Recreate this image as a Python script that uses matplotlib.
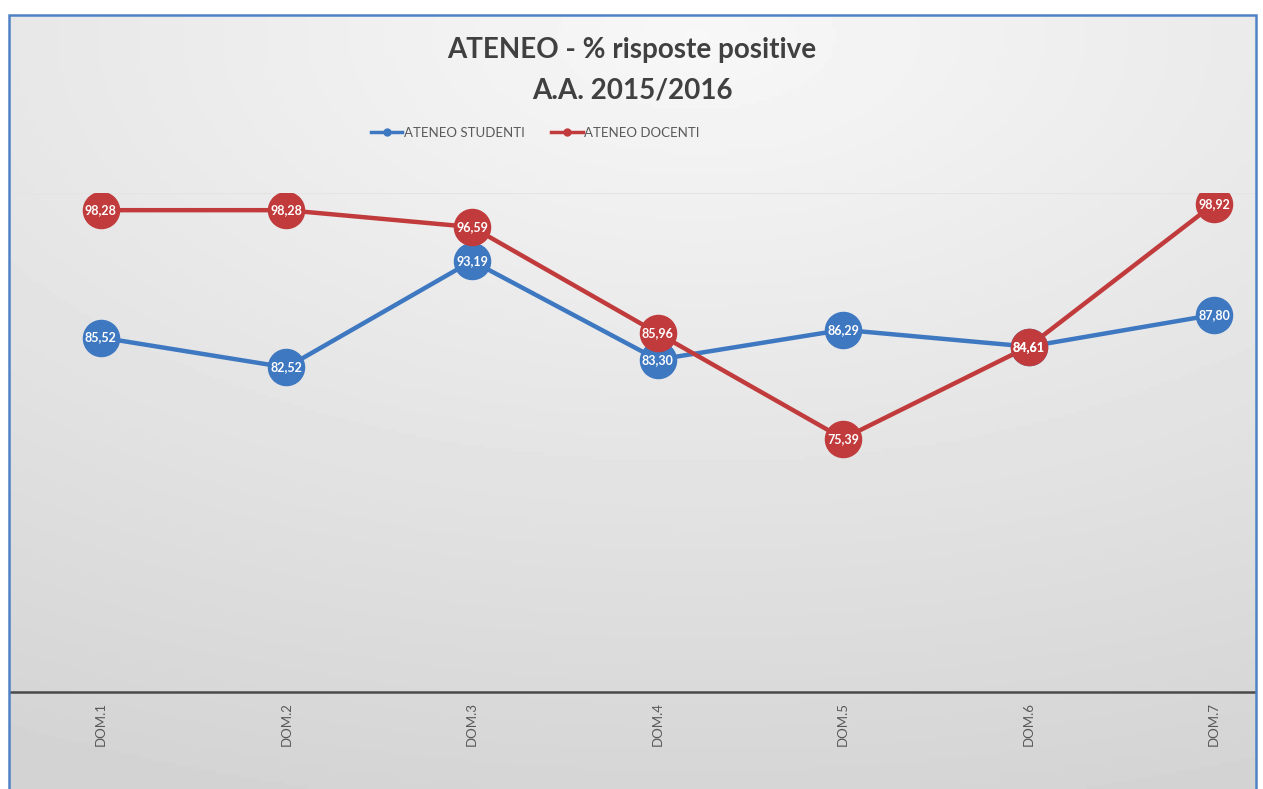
import numpy as np
import matplotlib.pyplot as plt
from matplotlib.patches import Rectangle

categories = ['DOM.1', 'DOM.2', 'DOM.3', 'DOM.4', 'DOM.5', 'DOM.6', 'DOM.7']
studenti = [85.52, 82.52, 93.19, 83.30, 86.29, 84.61, 87.80]
docenti = [98.28, 98.28, 96.59, 85.96, 75.39, 84.61, 98.92]

blue = '#3e78c1'
red = '#c13b3c'
W, H = 1263, 789

plt.rcParams['font.family'] = ['Lato', 'DejaVu Sans']
fig = plt.figure(figsize=(W / 100, H / 100), dpi=100)
fig.patch.set_facecolor('white')

# background panel with soft gradient
bg = fig.add_axes([9 / W, 0, (1256 - 9) / W, 1 - 15 / H])
yy, xx = np.mgrid[0:200, 0:300]
cx, cy = 165, 5
d = np.sqrt(((xx - cx) / 300) ** 2 + ((yy - cy) / 170) ** 2)
shade = 0.97 - 0.14 * np.clip(d, 0, 1.2) / 1.2
bg.imshow(shade, cmap='gray', vmin=0, vmax=1, aspect='auto', extent=[0, 1, 0, 1], origin='upper')
bg.set_xlim(0, 1)
bg.set_ylim(0, 1)
bg.axis('off')
fig.patches.append(Rectangle((9 / W, -0.01), (1256 - 9) / W, 1 - 15 / H + 0.01,
                             transform=fig.transFigure, fill=False,
                             edgecolor='#4f81c7', linewidth=1.8))

ax = fig.add_axes([10 / W, 1 - 692 / H, (1255 - 10) / W, (692 - 193) / H])
ax.set_facecolor('none')
x = np.arange(len(categories))
ax.axhline(100, color='#e4e4e4', linewidth=0.8, zorder=1)

for vals, col, lab in [(studenti, blue, 'ATENEO STUDENTI'), (docenti, red, 'ATENEO DOCENTI')]:
    ax.plot(x, vals, color=col, linewidth=3.2, zorder=3)
    ax.plot(x, vals, 'o', color=col, markersize=26, zorder=4)
    for xi, v in zip(x, vals):
        ax.text(xi, v, f'{v:.2f}'.replace('.', ','), color='white', fontsize=9,
                fontweight='bold', ha='center', va='center', zorder=5)
    ax.plot([], [], color=col, linewidth=2.5, marker='o', markersize=5, label=lab)

ax.set_xlim(-0.49, 6.22)
ax.set_ylim(50, 100)
ax.set_xticks(x)
ax.set_xticklabels(categories, rotation=90, fontsize=9.5, color='#595959')
ax.tick_params(axis='x', length=0, pad=7)
ax.set_yticks([])
for s in ['top', 'left', 'right']:
    ax.spines[s].set_visible(False)
ax.spines['bottom'].set_color('#4a4a4a')
ax.spines['bottom'].set_linewidth(1.8)

fig.text(632 / W, 1 - 50 / H, 'ATENEO - % risposte positive', ha='center', va='center',
         fontsize=20, fontweight='bold', color='#404040')
fig.text(632 / W, 1 - 90 / H, 'A.A. 2015/2016', ha='center', va='center',
         fontsize=20, fontweight='bold', color='#404040')

leg = ax.legend(loc='center', bbox_to_anchor=(535 / W, 1 - 133 / H), bbox_transform=fig.transFigure,
                ncol=2, frameon=False, fontsize=9.5, handlelength=2.4, handletextpad=0.1,
                columnspacing=2.0)
for t in leg.get_texts():
    t.set_color('#595959')

fig.savefig('out.png', dpi=100)
